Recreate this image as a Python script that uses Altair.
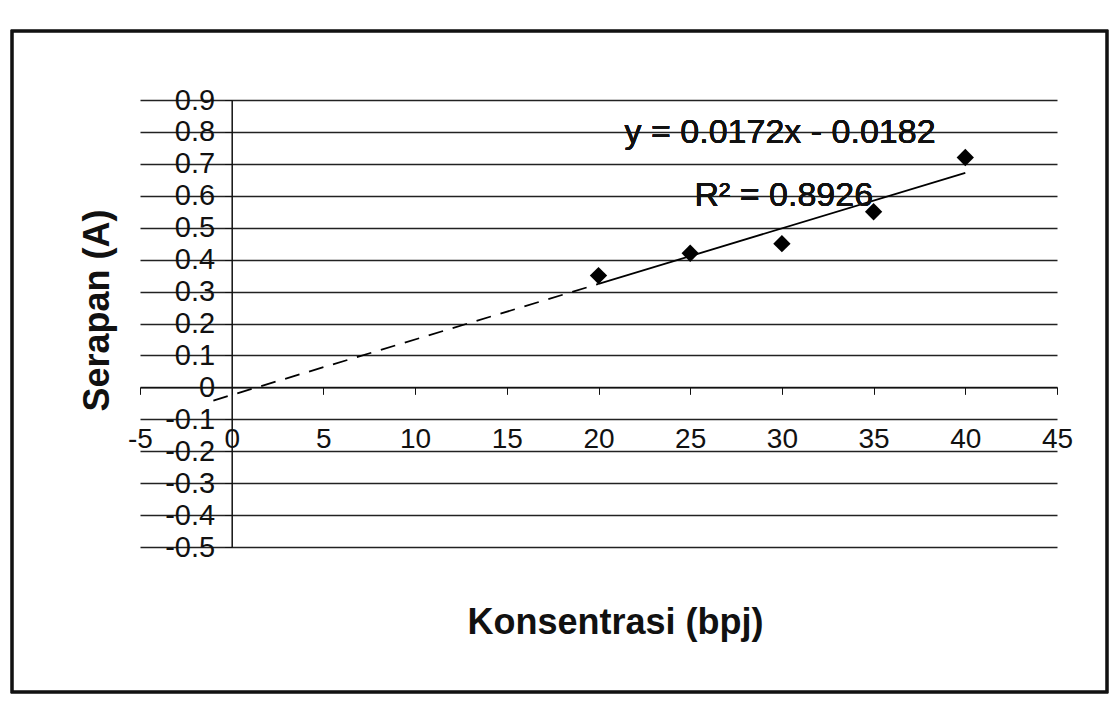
import altair as alt
import pandas as pd

# Data
konsentrasi = [20, 25, 30, 35, 40]
serapan = [0.35, 0.42, 0.45, 0.55, 0.72]

x_ticks = [-5, 0, 5, 10, 15, 20, 25, 30, 35, 40, 45]
y_ticks = [-0.5, -0.4, -0.3, -0.2, -0.1, 0, 0.1, 0.2, 0.3, 0.4, 0.5, 0.6, 0.7, 0.8, 0.9]

eq_text = "y = 0.0172x - 0.0182"
r2_text = "R² = 0.8926"

df = pd.DataFrame({"x": konsentrasi, "y": serapan})

W, H = 917, 447
FONT = "Liberation Sans"

xscale = alt.Scale(domain=[-5, 45], nice=False, zero=False)
yscale = alt.Scale(domain=[-0.5, 0.9], nice=False, zero=False)

# y axis sits at x = 0, x axis sits at y = 0
yaxis_off = -(5 / 50) * W
xaxis_off = -(0.5 / 1.4) * H

x_enc = alt.X(
    "x:Q", scale=xscale,
    axis=alt.Axis(
        values=x_ticks, tickCount=len(x_ticks) + 5, offset=xaxis_off, grid=False,
        title="Konsentrasi (bpj)", titleFontSize=36, titleFontWeight="bold",
        titleFont=FONT, titleX=475, titleY=235, titleBaseline="middle",
        titleAlign="center", titleColor="#111",
        labelFontSize=28, labelFont=FONT, labelColor="#111",
        labelOverlap=False, labelFlush=False,
        labelPadding=31, tickSize=7, tickColor="#111", domainColor="#111",
        domainWidth=1.5,
        labelExpr="(datum.value < 0 ? '-' : '') + format(abs(datum.value), 'd')",
    ),
)
y_enc = alt.Y(
    "y:Q", scale=yscale,
    axis=alt.Axis(
        values=y_ticks, tickCount=len(y_ticks) + 5, offset=yaxis_off,
        grid=True, gridColor="#222", gridWidth=1.5,
        title="Serapan (A)", titleFontSize=36, titleFontWeight="bold",
        titleFont=FONT, titleX=-134, titleY=210, titleAngle=-90,
        titleBaseline="middle", titleAlign="center", titleColor="#111",
        labelFontSize=29, labelFont=FONT, labelColor="#111",
        labelOverlap=False, labelFlush=False,
        labelPadding=10, tickSize=7, tickColor="#111", domainColor="#111",
        domainWidth=1.5,
        labelExpr="(datum.value < 0 ? '-' : '') + format(abs(datum.value), '.1~f')",
    ),
)

points = alt.Chart(df).mark_point(
    shape="diamond", filled=True, color="black", size=300, opacity=1
).encode(x=x_enc, y=y_enc)

trend_solid = alt.Chart(df).transform_regression(
    "x", "y", extent=[20, 40]
).mark_line(color="black", strokeWidth=1.8).encode(
    x=alt.X("x:Q", scale=xscale), y=alt.Y("y:Q", scale=yscale)
)

trend_dash = alt.Chart(df).transform_regression(
    "x", "y", extent=[-1, 20]
).mark_line(color="black", strokeWidth=1.8, strokeDash=[15, 10]).encode(
    x=alt.X("x:Q", scale=xscale), y=alt.Y("y:Q", scale=yscale)
)

eq = alt.Chart(df).mark_text(
    text=eq_text, fontSize=34, font=FONT, color="#111", align="center", baseline="middle"
).encode(x=alt.datum(29.9), y=alt.datum(0.797))

r2 = alt.Chart(df).mark_text(
    text=r2_text, fontSize=34, font=FONT, color="#111", align="center", baseline="middle"
).encode(x=alt.datum(30.1), y=alt.datum(0.60))

frame = alt.Chart(df).mark_rect(
    fill=None, stroke="#111", strokeWidth=2.5
).encode(
    x=alt.value(-128), x2=alt.value(967), y=alt.value(-69), y2=alt.value(592)
)

chart = alt.layer(points, trend_dash, trend_solid, eq, r2, frame).properties(
    width=W, height=H,
    autosize=alt.AutoSizeParams(type="none"),
    padding={"left": 140, "top": 100, "right": 58, "bottom": 176},
    background="white",
).configure_view(stroke=None)

chart.save("out.html", embed_options={"renderer": "svg", "actions": False})
